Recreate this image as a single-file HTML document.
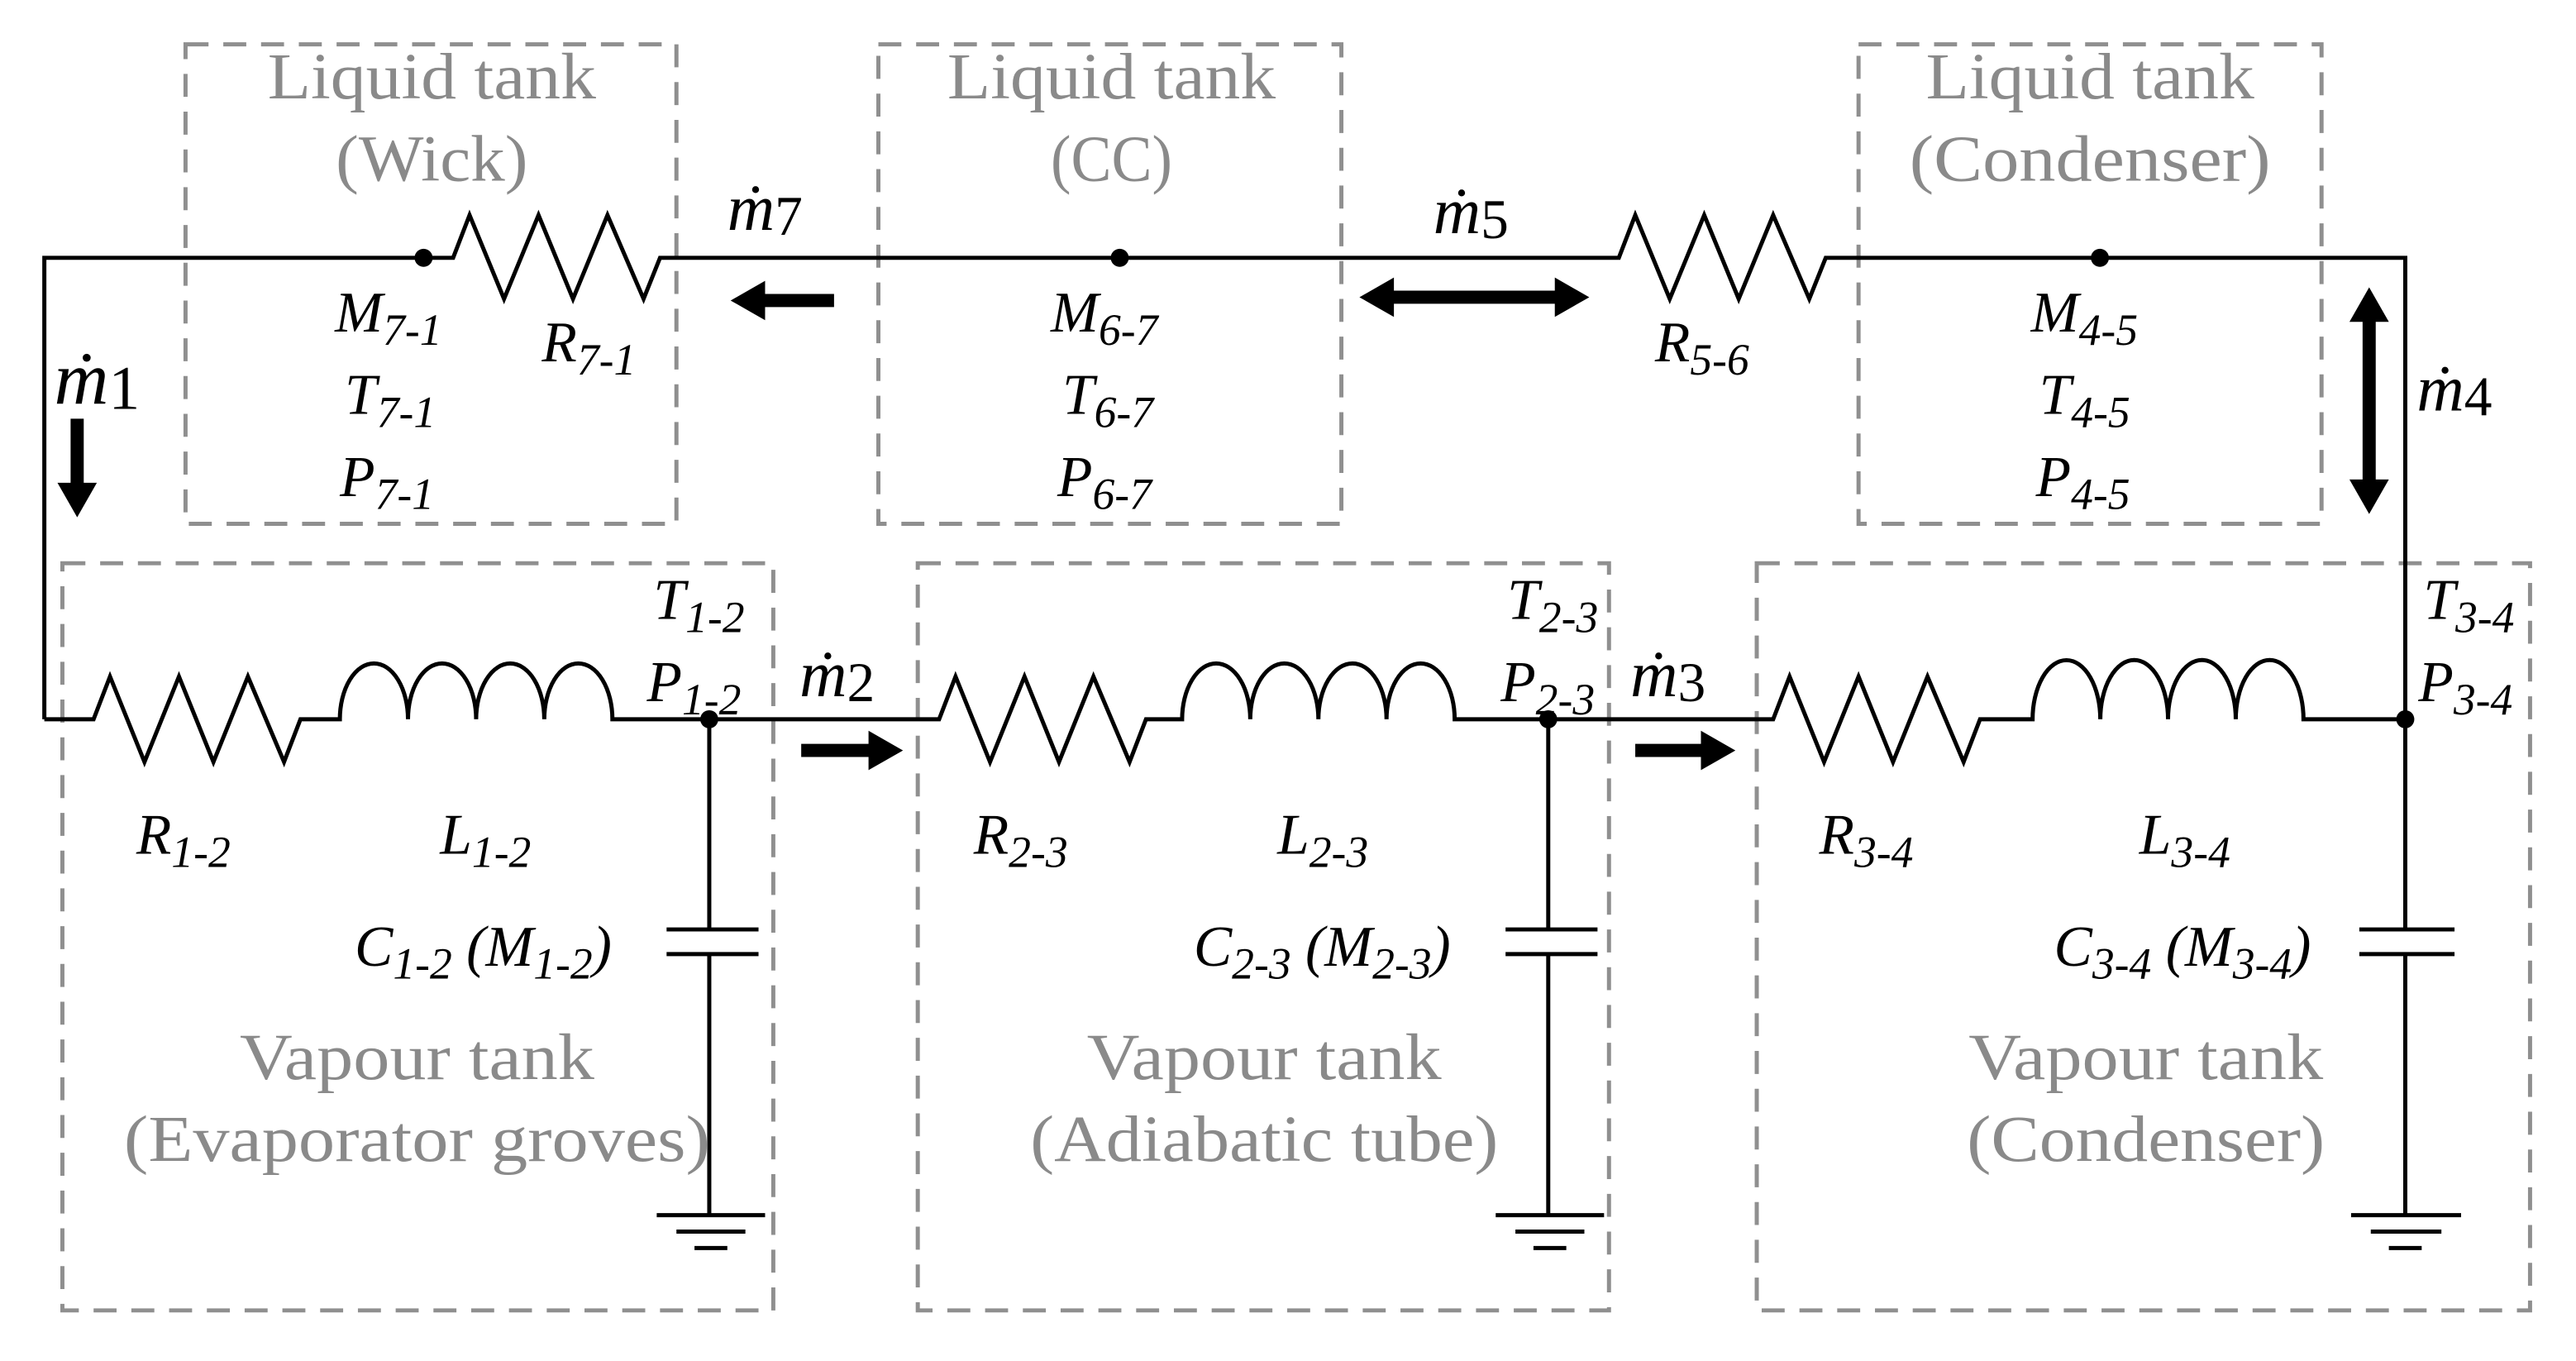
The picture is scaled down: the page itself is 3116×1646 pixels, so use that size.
<!DOCTYPE html>
<html><head><meta charset="utf-8"><style>
html,body{margin:0;padding:0;background:#fff;}
svg{display:block;}
.g{font-family:"Liberation Serif",serif;font-size:40px;fill:#8a8a8a;text-anchor:middle;}
.m{font-family:"Liberation Serif",serif;font-style:italic;font-size:35px;fill:#000;}
.s{font-size:27px;}
.d{font-family:"Liberation Serif",serif;font-style:italic;font-size:40px;fill:#000;}
.ds{font-style:normal;font-size:34px;}
</style></head><body>
<svg width="3116" height="1646" viewBox="0 0 1558 823" xmlns="http://www.w3.org/2000/svg">
<g transform="scale(0.993)">
<g fill="none" stroke="#8f8f8f" stroke-width="2.5" stroke-dasharray="14,9">
<rect x="113" y="27" width="299" height="292"/>
<rect x="535" y="27" width="282" height="292"/>
<rect x="1132" y="27" width="282" height="292"/>
<rect x="38" y="343" width="433" height="455"/>
<rect x="559" y="343" width="421" height="455"/>
<rect x="1070" y="343" width="471" height="455"/>
</g>
<g fill="none" stroke="#000" stroke-width="2.5" stroke-linejoin="miter">
<path d="M27,438 V157 H276 L286,131 L307,182 L328,131 L349,182 L370,131 L392,182 L402,157 H986 L996,131 L1017,182 L1038,131 L1059,182 L1080,131 L1102,182 L1112,157 H1465 V438"/>
<path d="M27,438 H57 L67,412 L88,464 L109,412 L130,464 L151,412 L173,464 L183,438 H207 a20.75,34 0 0 1 41.5,0 a20.75,34 0 0 1 41.5,0 a20.75,34 0 0 1 41.5,0 a20.75,34 0 0 1 41.5,0 H572 L582,412 L603,464 L624,412 L645,464 L666,412 L688,464 L698,438 H720 a20.75,34 0 0 1 41.5,0 a20.75,34 0 0 1 41.5,0 a20.75,34 0 0 1 41.5,0 a20.75,34 0 0 1 41.5,0 H1080 L1090,412 L1111,464 L1132,412 L1153,464 L1174,412 L1196,464 L1206,438 H1238 a20.6,36 0 0 1 41.25,0 a20.6,36 0 0 1 41.25,0 a20.6,36 0 0 1 41.25,0 a20.6,36 0 0 1 41.25,0 H1465"/>
<path d="M432,438 V566 M406,566 H462 M406,581 H462 M432,581 V740 M400,740 H466 M412,750 H454 M423,760 H443"/>
<path d="M943,438 V566 M917,566 H973 M917,581 H973 M943,581 V740 M911,740 H977 M923,750 H965 M934,760 H954"/>
<path d="M1465,438 V566 M1437,566 H1495 M1437,581 H1495 M1465,581 V740 M1432,740 H1499 M1444,750 H1487 M1455,760 H1475"/>
</g>
<g fill="#000">
<circle cx="258" cy="157" r="5.5"/><circle cx="682" cy="157" r="5.5"/><circle cx="1279" cy="157" r="5.5"/>
<circle cx="432" cy="438" r="5.5"/><circle cx="943" cy="438" r="5.5"/><circle cx="1465" cy="438" r="5.5"/>
<path d="M445,183 L466,171 V179 H508 V187 H466 V195 Z"/>
<path d="M828,181 L849,169 V177 H947 V169 L968,181 L947,193 V185 H849 V193 Z"/>
<path d="M1443,175 L1455,196 H1447 V292 H1455 L1443,313 L1431,292 H1439 V196 H1431 Z"/>
<path d="M47,315 L35,294 H43 V255 H51 V294 H59 Z"/>
<path d="M550,457 L529,445 V453 H488 V461 H529 V469 Z"/>
<path d="M1057,457 L1036,445 V453 H996 V461 H1036 V469 Z"/>
</g>
<text class="g" x="263" y="60" textLength="200" lengthAdjust="spacingAndGlyphs">Liquid tank</text><text class="g" x="263" y="110" textLength="117" lengthAdjust="spacingAndGlyphs">(Wick)</text>
<text class="g" x="677" y="60" textLength="200" lengthAdjust="spacingAndGlyphs">Liquid tank</text><text class="g" x="677" y="110" textLength="74" lengthAdjust="spacingAndGlyphs">(CC)</text>
<text class="g" x="1273" y="60" textLength="200" lengthAdjust="spacingAndGlyphs">Liquid tank</text><text class="g" x="1273" y="110" textLength="220" lengthAdjust="spacingAndGlyphs">(Condenser)</text>
<text class="g" x="254" y="657" textLength="216" lengthAdjust="spacingAndGlyphs">Vapour tank</text><text class="g" x="254" y="707" textLength="357" lengthAdjust="spacingAndGlyphs">(Evaporator groves)</text>
<text class="g" x="770" y="657" textLength="216" lengthAdjust="spacingAndGlyphs">Vapour tank</text><text class="g" x="770" y="707" textLength="285" lengthAdjust="spacingAndGlyphs">(Adiabatic tube)</text>
<text class="g" x="1307" y="657" textLength="216" lengthAdjust="spacingAndGlyphs">Vapour tank</text><text class="g" x="1307" y="707" textLength="218" lengthAdjust="spacingAndGlyphs">(Condenser)</text>
<text class="m" x="204" y="202">M<tspan class="s" dy="8">7-1</tspan></text>
<text class="m" x="210" y="252">T<tspan class="s" dy="8">7-1</tspan></text>
<text class="m" x="207" y="302">P<tspan class="s" dy="8">7-1</tspan></text>
<text class="m" x="330" y="220">R<tspan class="s" dy="8">7-1</tspan></text>
<text class="m" x="640" y="202">M<tspan class="s" dy="8">6-7</tspan></text>
<text class="m" x="647" y="252">T<tspan class="s" dy="8">6-7</tspan></text>
<text class="m" x="644" y="302">P<tspan class="s" dy="8">6-7</tspan></text>
<text class="m" x="1008" y="220">R<tspan class="s" dy="8">5-6</tspan></text>
<text class="m" x="1237" y="202">M<tspan class="s" dy="8">4-5</tspan></text>
<text class="m" x="1242" y="252">T<tspan class="s" dy="8">4-5</tspan></text>
<text class="m" x="1240" y="302">P<tspan class="s" dy="8">4-5</tspan></text>
<text class="m" x="398" y="377">T<tspan class="s" dy="8">1-2</tspan></text>
<text class="m" x="394" y="427">P<tspan class="s" dy="8">1-2</tspan></text>
<text class="m" x="918" y="377">T<tspan class="s" dy="8">2-3</tspan></text>
<text class="m" x="914" y="427">P<tspan class="s" dy="8">2-3</tspan></text>
<text class="m" x="1476" y="377">T<tspan class="s" dy="8">3-4</tspan></text>
<text class="m" x="1473" y="427">P<tspan class="s" dy="8">3-4</tspan></text>
<text class="m" x="83" y="520">R<tspan class="s" dy="8">1-2</tspan></text>
<text class="m" x="268" y="520">L<tspan class="s" dy="8">1-2</tspan></text>
<text class="m" x="593" y="520">R<tspan class="s" dy="8">2-3</tspan></text>
<text class="m" x="778" y="520">L<tspan class="s" dy="8">2-3</tspan></text>
<text class="m" x="1108" y="520">R<tspan class="s" dy="8">3-4</tspan></text>
<text class="m" x="1303" y="520">L<tspan class="s" dy="8">3-4</tspan></text>
<text class="m" x="216" y="588">C<tspan class="s" dy="8">1-2</tspan><tspan dy="-8"> (M</tspan><tspan class="s" dy="8">1-2</tspan><tspan dy="-8">)</tspan></text>
<text class="m" x="727" y="588">C<tspan class="s" dy="8">2-3</tspan><tspan dy="-8"> (M</tspan><tspan class="s" dy="8">2-3</tspan><tspan dy="-8">)</tspan></text>
<text class="m" x="1251" y="588">C<tspan class="s" dy="8">3-4</tspan><tspan dy="-8"> (M</tspan><tspan class="s" dy="8">3-4</tspan><tspan dy="-8">)</tspan></text>
<text class="d" x="443" y="140">ṁ<tspan class="ds" dy="3">7</tspan></text>
<text class="d" x="873" y="142">ṁ<tspan class="ds" dy="3">5</tspan></text>
<text class="d" x="1472" y="250">ṁ<tspan class="ds" dy="3">4</tspan></text>
<text class="d" x="487" y="424">ṁ<tspan class="ds" dy="3">2</tspan></text>
<text class="d" x="993" y="424">ṁ<tspan class="ds" dy="3">3</tspan></text>
<text class="d" x="33" y="246" style="font-size:46px">ṁ<tspan class="ds" dy="3" style="font-size:38px">1</tspan></text>
</g>
</svg>
</body></html>
